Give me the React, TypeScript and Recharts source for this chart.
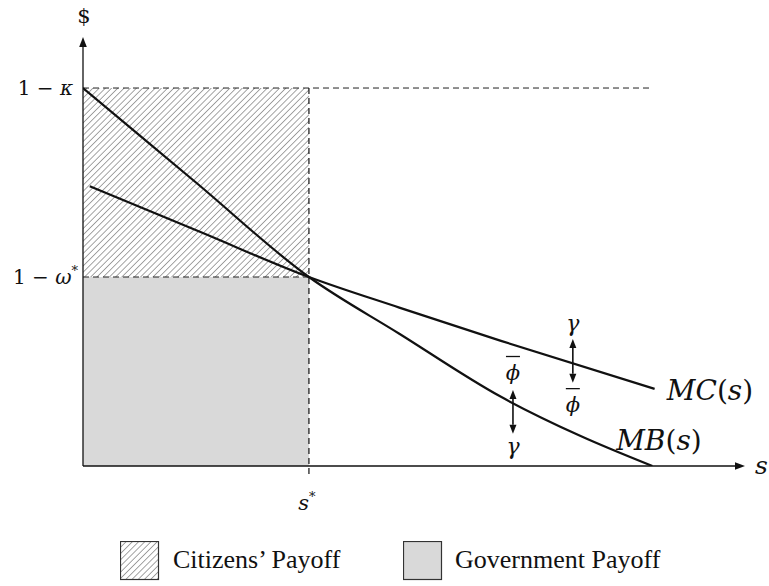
import React from 'react';
import {
  LineChart,
  Line,
  XAxis,
  YAxis,
  ReferenceArea,
  ReferenceLine,
  ReferenceDot,
} from 'recharts';

// curve samples (s, $)
const mbS = [0, 0.5, 1, 1.4, 1.85, 2.2, 2.52];
const mbV = [1, 0.75, 0.5, 0.35, 0.183, 0.08, 0];
const mcS = [0.03, 0.52, 1, 1.4, 1.85, 2.53];
const mcV = [0.74, 0.619, 0.5, 0.419, 0.331, 0.204];

const sStar = 1;
const oneMinusKappa = 1;
const oneMinusOmega = 0.5;
const sMax = 2.93;
const vMax = 1.135;
const kappaLineEnd = 2.52;
const sStarTickBottom = -0.032;

// gap arrows: [s, top, bottom]
const gapArrows = [
  [2.168, 0.336, 0.22],
  [1.903, 0.201, 0.085],
];
// gap labels: [s, value, text]
const gapLabels: [number, number, string][] = [
  [2.168, 0.37, 'γ'],
  [2.168, 0.165, 'phi'],
  [1.903, 0.25, 'phi'],
  [1.903, 0.045, 'γ'],
];

const mbData = mbS.map((s, i) => ({ s, v: mbV[i] }));
const mcData = mcS.map((s, i) => ({ s, v: mcV[i] }));

const serif = "'Liberation Serif', serif";
const math = "'DejaVu Serif', serif";
const ink = '#111';

const YTick = ({ x, y, payload }: any) => {
  const isKappa = payload.value === oneMinusKappa;
  return (
    <text x={isKappa ? x - 2 : x + 3} y={y} dy={7} textAnchor="end" fontFamily={math} fontSize={20} fill={ink}>
      1 − <tspan fontStyle="italic">{isKappa ? 'κ' : 'ω'}</tspan>
      {!isKappa && <tspan dy={-9} fontSize={13}>*</tspan>}
    </text>
  );
};

const XTick = ({ x, y }: any) => (
  <text x={x - 2} y={y + 36} textAnchor="middle" fontFamily={math} fontSize={21} fill={ink}>
    <tspan fontStyle="italic">s</tspan>
    <tspan dy={-9} fontSize={13}>*</tspan>
  </text>
);

const Arrow = ({ x1, y1, x2, y2, label, lx, ly }: any) => {
  const dx = x2 - x1;
  const dy = y2 - y1;
  const len = Math.sqrt(dx * dx + dy * dy) || 1;
  const ux = dx / len;
  const uy = dy / len;
  const hl = 10;
  const hw = 3.8;
  const bx = x2 - ux * hl;
  const by = y2 - uy * hl;
  return (
    <g>
      <line x1={x1} y1={y1} x2={bx} y2={by} stroke={ink} strokeWidth={1.3} />
      <polygon
        points={`${x2},${y2} ${bx - uy * hw},${by + ux * hw} ${bx + uy * hw},${by - ux * hw}`}
        fill={ink}
      />
      {label && (
        <text x={x2 + lx} y={y2 + ly} fontFamily={math} fontStyle="italic" fontSize={25} fill={ink}>
          {label}
        </text>
      )}
    </g>
  );
};

const DoubleArrow = ({ x1, y1, x2, y2 }: any) => {
  const hl = 9;
  const hw = 3.5;
  return (
    <g>
      <line x1={x1} y1={y1 + hl} x2={x2} y2={y2 - hl} stroke={ink} strokeWidth={1.6} />
      <polygon points={`${x1},${y1} ${x1 - hw},${y1 + hl} ${x1 + hw},${y1 + hl}`} fill={ink} />
      <polygon points={`${x2},${y2} ${x2 - hw},${y2 - hl} ${x2 + hw},${y2 - hl}`} fill={ink} />
    </g>
  );
};

const GapLabel = ({ cx, cy, text }: any) => {
  if (text === 'phi') {
    return (
      <g>
        <line x1={cx - 7} y1={cy - 15} x2={cx + 7} y2={cy - 15} stroke={ink} strokeWidth={1.3} />
        <text x={cx} y={cy + 8} textAnchor="middle" fontFamily={math} fontStyle="italic" fontSize={21} fill={ink}>
          ϕ
        </text>
      </g>
    );
  }
  return (
    <text x={cx} y={cy + 5} textAnchor="middle" fontFamily={math} fontStyle="italic" fontSize={22} fill={ink}>
      {text}
    </text>
  );
};

const CurveLabel = ({ cx, cy, text }: any) => (
  <text x={cx} y={cy} fontFamily={math} fontSize={28} fill={ink}>
    <tspan fontStyle="italic">{text}</tspan>(<tspan fontStyle="italic">s</tspan>)
  </text>
);

export default function App() {
  return (
    <div style={{ position: 'relative', width: 769, height: 586, background: '#fff' }}>
      <style>{`body{margin:0}`}</style>
      <svg width={0} height={0} style={{ position: 'absolute' }}>
        <defs>
          <pattern id="hatch" patternUnits="userSpaceOnUse" width={4.4} height={4.4} patternTransform="rotate(45)">
            <line x1={0} y1={0} x2={0} y2={4.4} stroke="#4a4a4a" strokeWidth={1} />
          </pattern>
        </defs>
      </svg>
      <LineChart width={769} height={586} margin={{ top: 37, right: 24, bottom: 70, left: 0 }}>
        <XAxis
          type="number"
          dataKey="s"
          domain={[0, sMax]}
          ticks={[sStar]}
          tick={<XTick />}
          axisLine={false}
          tickLine={false}
          height={50}
          allowDataOverflow
        />
        <YAxis
          type="number"
          domain={[0, vMax]}
          ticks={[oneMinusOmega, oneMinusKappa]}
          tick={<YTick />}
          axisLine={false}
          tickLine={false}
          width={83}
          allowDataOverflow
        />
        <ReferenceArea x1={0} x2={sStar} y1={oneMinusOmega} y2={oneMinusKappa} fill="url(#hatch)" fillOpacity={1} stroke="none" />
        <ReferenceArea x1={0} x2={sStar} y1={0} y2={oneMinusOmega} fill="#d9d9d9" fillOpacity={1} stroke="none" />
        <ReferenceLine
          segment={[{ x: 0, y: oneMinusKappa }, { x: kappaLineEnd, y: oneMinusKappa }]}
          stroke="#222"
          strokeDasharray="6 4"
          strokeWidth={1}
        />
        <ReferenceLine
          segment={[{ x: 0, y: oneMinusOmega }, { x: sStar, y: oneMinusOmega }]}
          stroke="#222"
          strokeDasharray="6 4"
          strokeWidth={1}
        />
        <ReferenceLine
          segment={[{ x: sStar, y: oneMinusKappa }, { x: sStar, y: sStarTickBottom }]}
          stroke="#111"
          strokeDasharray="6 4"
          strokeWidth={1.2}
          ifOverflow="visible"
        />
        <Line data={mbData} dataKey="v" type="monotone" stroke={ink} strokeWidth={2.2} dot={false} isAnimationActive={false} />
        <Line data={mcData} dataKey="v" type="monotone" stroke={ink} strokeWidth={2.2} dot={false} isAnimationActive={false} />
        <ReferenceLine
          segment={[{ x: 0, y: 0 }, { x: sMax, y: 0 }]}
          ifOverflow="visible"
          shape={(p: any) => <Arrow {...p} label="s" lx={10} ly={8} />}
        />
        <ReferenceLine
          segment={[{ x: 0, y: 0 }, { x: 0, y: vMax }]}
          ifOverflow="visible"
          shape={(p: any) => (
            <g>
              <Arrow {...p} />
              <text x={p.x2 + 1} y={p.y2 - 14} textAnchor="middle" fontFamily={math} fontSize={21} fill={ink}>
                $
              </text>
            </g>
          )}
        />
        {gapArrows.map(([s, top, bottom], i) => (
          <ReferenceLine
            key={`ga-${i}`}
            segment={[{ x: s, y: top }, { x: s, y: bottom }]}
            shape={(p: any) => <DoubleArrow {...p} />}
          />
        ))}
        {gapLabels.map(([s, v, text], i) => (
          <ReferenceDot
            key={`gl-${i}`}
            x={s}
            y={v}
            r={0}
            shape={(p: any) => <GapLabel {...p} text={text} />}
          />
        ))}
        <ReferenceDot x={2.584} y={0.175} r={0} ifOverflow="visible" shape={(p: any) => <CurveLabel {...p} text="MC" />} />
        <ReferenceDot x={2.36} y={0.042} r={0} ifOverflow="visible" shape={(p: any) => <CurveLabel {...p} text="MB" />} />
      </LineChart>

      <svg width={40} height={40} style={{ position: 'absolute', left: 120, top: 541 }}>
        <rect x={0.5} y={0.5} width={38} height={38} fill="url(#hatch)" stroke="#333" strokeWidth={1.2} />
      </svg>
      <div style={{ position: 'absolute', left: 173, top: 545, fontFamily: serif, fontSize: 26, color: ink, whiteSpace: 'nowrap' }}>
        Citizens’ Payoff
      </div>
      <svg width={40} height={40} style={{ position: 'absolute', left: 403, top: 541 }}>
        <rect x={0.5} y={0.5} width={38} height={38} fill="#d9d9d9" stroke="#333" strokeWidth={1.2} />
      </svg>
      <div style={{ position: 'absolute', left: 455, top: 545, fontFamily: serif, fontSize: 26, color: ink, whiteSpace: 'nowrap' }}>
        Government Payoff
      </div>
    </div>
  );
}
